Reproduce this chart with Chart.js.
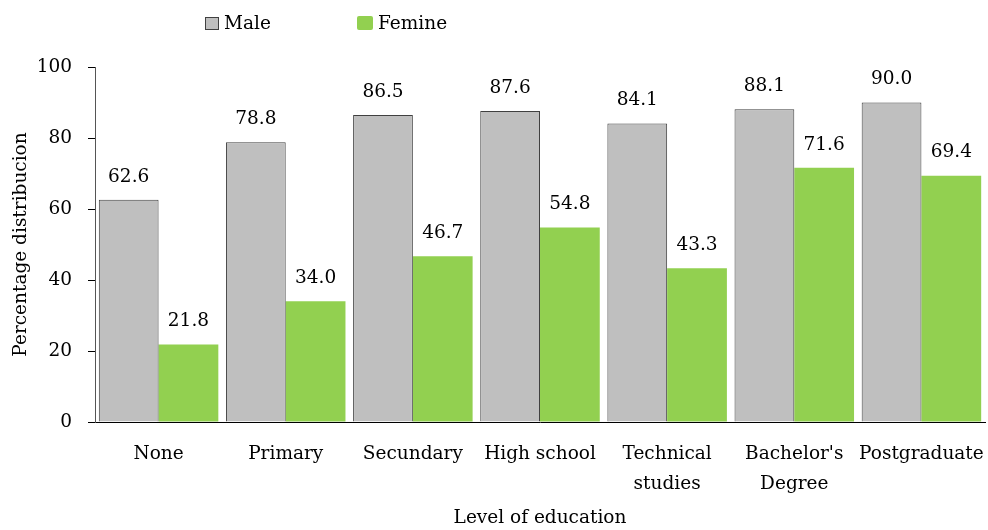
<!DOCTYPE html>
<html>
<head>
<meta charset="utf-8">
<script src="https://cdn.jsdelivr.net/npm/chart.js@4"></script>
<style>
  html, body { margin: 0; padding: 0; background: #fff; }
  #wrap { position: relative; width: 988px; height: 530px; }
  #legend { position: absolute; top: 12px; left: 0; font-family: "DejaVu Serif", serif; font-size: 18.5px; color: #000; }
  .item { position: absolute; white-space: nowrap; }
  .box { display: inline-block; width: 14px; height: 13px; vertical-align: -1px; margin-right: 5px; box-sizing: border-box; }
</style>
</head>
<body>
<div id="wrap">
  <canvas id="c" width="988" height="530"></canvas>
  <div id="legend">
    <span class="item" style="left:205px"><span class="box" style="background:#bfbfbf;border:1px solid #404040"></span>Male</span>
    <span class="item" style="left:357px"><span class="box" style="background:#92d050;width:16px;height:14px;border-radius:2px"></span>Femine</span>
  </div>
</div>
<script>
const categories = ["None", "Primary", "Secundary", "High school", ["Technical", "studies"], ["Bachelor's", "Degree"], "Postgraduate"];
const maleValues = [62.6, 78.8, 86.5, 87.6, 84.1, 88.1, 90.0];
const femaleValues = [21.8, 34.0, 46.7, 54.8, 43.3, 71.6, 69.4];
const yTicks = [0, 20, 40, 60, 80, 100];

const FONT = "DejaVu Serif";
const FS = 18.5;

const valueLabels = {
  id: 'valueLabels',
  afterDatasetsDraw(chart) {
    const ctx = chart.ctx;
    ctx.save();
    ctx.font = FS + "px '" + FONT + "'";
    ctx.fillStyle = '#000';
    ctx.textAlign = 'center';
    ctx.textBaseline = 'middle';
    chart.data.datasets.forEach((ds, i) => {
      chart.getDatasetMeta(i).data.forEach((bar, j) => {
        ctx.fillText(ds.data[j].toFixed(1), bar.x, bar.y - 23);
      });
    });
    ctx.restore();
  }
};

new Chart(document.getElementById('c'), {
  type: 'bar',
  data: {
    labels: categories,
    datasets: [
      { label: 'Male', data: maleValues, backgroundColor: '#bfbfbf', borderColor: '#404040', borderWidth: 1, borderSkipped: 'bottom' },
      { label: 'Femine', data: femaleValues, backgroundColor: '#92d050', borderWidth: 0 }
    ]
  },
  options: {
    responsive: false,
    animation: false,
    layout: { padding: { top: 67, right: 3, left: 0, bottom: 0 } },
    plugins: { legend: { display: false }, tooltip: { enabled: false } },
    datasets: { bar: { categoryPercentage: 0.94, barPercentage: 1.0 } },
    scales: {
      x: {
        afterFit(scale) { scale.height = 108; scale.paddingLeft = 0; scale.paddingRight = 0; },
        grid: { display: false, drawTicks: false },
        border: { display: true, color: '#000', width: 1 },
        ticks: { color: '#000', font: { family: FONT, size: FS, lineHeight: 1.62 }, maxRotation: 0, autoSkip: false, padding: 17 },
        title: { display: true, text: 'Level of education', color: '#000', font: { family: FONT, size: FS }, padding: { top: 0, bottom: 1 } }
      },
      y: {
        min: 0, max: 100,
        afterFit(scale) { scale.width = 95; },
        afterBuildTicks(axis) { axis.ticks = yTicks.map(v => ({ value: v })); },
        grid: { drawOnChartArea: false, drawTicks: true, tickLength: 7, color: '#000' },
        border: { display: true, color: '#555', width: 1 },
        ticks: { color: '#000', font: { family: FONT, size: FS }, padding: 16 },
        title: { display: true, text: 'Percentage distribucion', color: '#000', font: { family: FONT, size: FS }, padding: { top: 10, bottom: 0 } }
      }
    }
  },
  plugins: [valueLabels]
});
</script>
</body>
</html>
